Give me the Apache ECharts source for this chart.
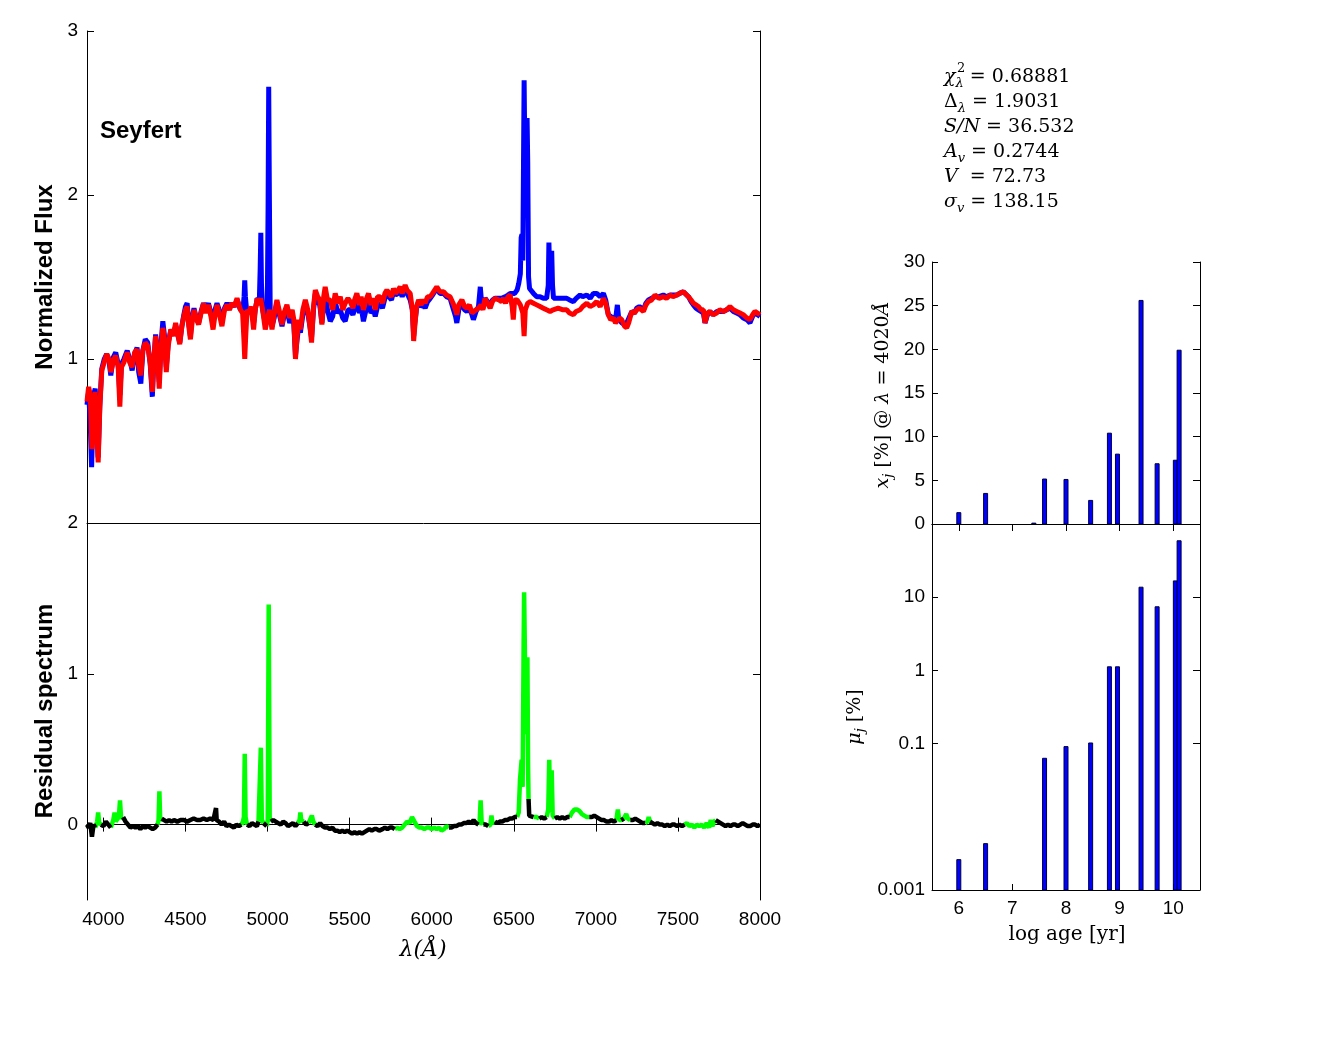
<!DOCTYPE html>
<html>
<head>
<meta charset="utf-8">
<script src="https://cdn.jsdelivr.net/npm/echarts@6.0.0/dist/echarts.min.js"></script>
<style>
  html, body { margin: 0; padding: 0; background: #fff; }
  #main { width: 1334px; height: 1046px; }
</style>
</head>
<body>
<div id="main"></div>
<script>
///******************************************** data ********************************************\\\

// observed spectrum (blue), [wavelength (A), normalized flux]
var obsFlux = [
  [3900,0.72],[3910,0.80],[3920,0.60],[3928,0.34],[3940,0.78],[3950,0.82],[3960,0.60],[3968,0.40],[3978,0.72],[3990,0.94],
  [4005,1.00],[4020,1.03],[4035,0.98],[4045,0.90],[4060,1.01],[4075,1.04],[4090,0.97],[4100,0.78],[4110,0.97],[4125,1.00],
  [4145,1.05],[4160,1.00],[4175,0.93],[4190,1.03],[4205,1.07],[4215,0.92],[4228,0.85],[4240,1.05],[4255,1.12],[4270,1.10],
  [4285,0.97],[4298,0.77],[4308,1.00],[4318,1.15],[4328,1.05],[4340,0.86],[4350,1.08],[4362,1.23],[4372,1.14],[4383,0.95],
  [4395,1.10],[4410,1.17],[4425,1.15],[4440,1.20],[4452,1.15],[4465,1.10],[4478,1.20],[4490,1.27],[4500,1.32],[4510,1.34],
  [4520,1.22],[4530,1.14],[4540,1.25],[4552,1.31],[4565,1.25],[4580,1.22],[4595,1.29],[4610,1.34],[4625,1.30],[4640,1.34],
  [4655,1.28],[4668,1.22],[4680,1.30],[4692,1.34],[4705,1.30],[4722,1.25],[4738,1.31],[4753,1.34],[4768,1.31],[4783,1.34],
  [4798,1.32],[4814,1.36],[4825,1.35],[4835,1.30],[4850,1.30],[4857,1.38],[4861,1.48],[4865,1.38],[4872,1.30],[4886,1.28],
  [4900,1.31],[4915,1.22],[4925,1.30],[4937,1.37],[4950,1.36],[4955,1.55],[4959,1.77],[4963,1.45],[4970,1.30],[4986,1.22],
  [4998,1.28],[5003,1.90],[5007,2.66],[5011,2.00],[5016,1.30],[5027,1.20],[5040,1.25],[5057,1.34],[5070,1.28],[5088,1.20],
  [5100,1.26],[5118,1.30],[5135,1.22],[5150,1.26],[5160,1.21],[5170,1.02],[5180,1.12],[5190,1.20],[5200,1.16],[5215,1.27],
  [5230,1.33],[5245,1.28],[5258,1.20],[5268,1.13],[5280,1.30],[5291,1.40],[5305,1.35],[5318,1.33],[5331,1.22],[5342,1.33],
  [5351,1.40],[5365,1.30],[5382,1.23],[5397,1.26],[5412,1.35],[5428,1.28],[5443,1.30],[5458,1.25],[5473,1.23],[5490,1.30],
  [5504,1.30],[5520,1.27],[5530,1.30],[5544,1.36],[5560,1.28],[5570,1.32],[5584,1.23],[5600,1.30],[5615,1.36],[5630,1.28],
  [5645,1.30],[5656,1.26],[5670,1.32],[5686,1.34],[5700,1.31],[5715,1.37],[5727,1.40],[5740,1.38],[5755,1.36],[5767,1.41],
  [5780,1.39],[5795,1.40],[5808,1.42],[5820,1.38],[5838,1.43],[5850,1.40],[5869,1.36],[5882,1.30],[5890,1.14],[5897,1.22],
  [5908,1.31],[5920,1.35],[5935,1.32],[5950,1.33],[5960,1.31],[5975,1.35],[5991,1.37],[6005,1.39],[6018,1.41],[6031,1.43],
  [6050,1.40],[6072,1.40],[6090,1.38],[6112,1.37],[6130,1.31],[6145,1.26],[6153,1.22],[6165,1.30],[6184,1.34],[6200,1.30],
  [6214,1.29],[6230,1.31],[6245,1.27],[6254,1.24],[6270,1.29],[6285,1.32],[6296,1.44],[6305,1.33],[6312,1.31],[6325,1.37],
  [6340,1.35],[6356,1.33],[6370,1.36],[6385,1.37],[6397,1.38],[6410,1.37],[6425,1.37],[6437,1.38],[6450,1.38],[6465,1.39],
  [6478,1.40],[6490,1.39],[6505,1.40],[6520,1.42],[6530,1.46],[6540,1.52],[6545,1.74],[6550,1.76],[6555,1.60],[6560,2.30],
  [6563,2.70],[6566,2.40],[6575,2.30],[6581,2.47],[6585,2.20],[6590,1.50],[6596,1.43],[6605,1.42],[6620,1.40],[6640,1.38],
  [6660,1.38],[6680,1.37],[6700,1.37],[6710,1.45],[6714,1.71],[6718,1.55],[6727,1.50],[6731,1.66],[6736,1.45],[6742,1.37],
  [6752,1.37],[6770,1.37],[6782,1.36],[6800,1.37],[6823,1.37],[6840,1.36],[6863,1.35],[6880,1.37],[6904,1.39],[6920,1.38],
  [6945,1.39],[6965,1.37],[6985,1.40],[7005,1.40],[7026,1.38],[7046,1.40],[7060,1.36],[7076,1.27],[7090,1.26],[7107,1.25],
  [7120,1.24],[7131,1.33],[7140,1.24],[7158,1.22],[7175,1.21],[7188,1.22],[7200,1.23],[7219,1.29],[7235,1.28],[7249,1.31],
  [7265,1.32],[7290,1.30],[7305,1.34],[7320,1.36],[7340,1.37],[7360,1.38],[7385,1.38],[7411,1.39],[7430,1.38],[7452,1.39],
  [7470,1.39],[7493,1.39],[7510,1.40],[7533,1.41],[7545,1.40],[7564,1.38],[7580,1.35],[7594,1.33],[7610,1.31],[7625,1.30],
  [7640,1.29],[7655,1.28],[7665,1.22],[7680,1.27],[7695,1.29],[7715,1.27],[7736,1.29],[7755,1.29],[7777,1.29],[7797,1.30],
  [7817,1.31],[7838,1.29],[7858,1.28],[7878,1.27],[7898,1.25],[7920,1.24],[7939,1.22],[7955,1.26],[7969,1.28],[7985,1.27],
  [8000,1.26]
];

// synthetic (model) spectrum (red)
var modelFlux = [
  [3900,0.74],[3910,0.83],[3920,0.78],[3930,0.45],[3940,0.62],[3950,0.80],[3960,0.55],[3968,0.37],[3978,0.70],[3990,0.93],
  [4005,0.98],[4020,1.03],[4035,1.00],[4045,0.92],[4060,0.99],[4075,1.02],[4090,0.95],[4100,0.71],[4110,0.95],[4125,0.98],
  [4145,1.04],[4160,0.98],[4175,0.95],[4190,1.04],[4205,1.06],[4215,0.96],[4228,0.90],[4240,1.05],[4255,1.10],[4270,1.08],
  [4285,0.98],[4298,0.80],[4308,1.00],[4318,1.14],[4328,1.05],[4340,0.82],[4350,1.05],[4362,1.19],[4372,1.12],[4383,0.92],
  [4395,1.08],[4410,1.18],[4425,1.14],[4440,1.22],[4452,1.16],[4465,1.09],[4478,1.20],[4490,1.26],[4500,1.30],[4510,1.32],
  [4520,1.20],[4530,1.12],[4540,1.22],[4552,1.30],[4565,1.25],[4580,1.21],[4595,1.28],[4610,1.34],[4625,1.28],[4640,1.33],
  [4655,1.26],[4668,1.18],[4680,1.27],[4692,1.33],[4705,1.28],[4722,1.20],[4738,1.30],[4753,1.33],[4768,1.30],[4783,1.34],
  [4798,1.32],[4814,1.37],[4825,1.36],[4835,1.30],[4848,1.28],[4856,1.12],[4861,1.00],[4866,1.12],[4875,1.30],[4886,1.28],
  [4900,1.32],[4915,1.18],[4925,1.30],[4937,1.37],[4950,1.33],[4957,1.37],[4970,1.30],[4986,1.18],[5000,1.25],[5012,1.30],
  [5027,1.18],[5040,1.27],[5057,1.36],[5070,1.30],[5088,1.21],[5100,1.28],[5118,1.33],[5135,1.25],[5150,1.30],[5160,1.24],
  [5170,1.00],[5180,1.14],[5190,1.24],[5200,1.18],[5215,1.30],[5230,1.36],[5245,1.30],[5258,1.20],[5268,1.10],[5280,1.32],
  [5291,1.42],[5305,1.38],[5318,1.36],[5331,1.21],[5342,1.38],[5351,1.44],[5365,1.36],[5382,1.36],[5397,1.30],[5412,1.40],
  [5428,1.34],[5443,1.38],[5458,1.30],[5473,1.34],[5490,1.37],[5504,1.35],[5520,1.31],[5530,1.36],[5544,1.40],[5560,1.33],
  [5570,1.38],[5584,1.30],[5600,1.36],[5615,1.40],[5630,1.33],[5645,1.37],[5656,1.30],[5670,1.38],[5686,1.38],[5700,1.34],
  [5715,1.40],[5727,1.42],[5740,1.40],[5755,1.38],[5767,1.43],[5780,1.40],[5795,1.42],[5808,1.44],[5820,1.40],[5838,1.45],
  [5850,1.42],[5869,1.40],[5882,1.30],[5890,1.11],[5897,1.20],[5908,1.32],[5920,1.36],[5935,1.33],[5950,1.36],[5960,1.34],
  [5975,1.38],[5991,1.38],[6005,1.40],[6018,1.42],[6031,1.44],[6050,1.41],[6072,1.41],[6090,1.39],[6112,1.38],[6130,1.34],
  [6145,1.30],[6153,1.27],[6165,1.33],[6184,1.36],[6200,1.32],[6214,1.31],[6230,1.33],[6245,1.28],[6254,1.27],[6270,1.30],
  [6285,1.31],[6300,1.33],[6312,1.30],[6325,1.37],[6340,1.34],[6356,1.31],[6370,1.35],[6385,1.37],[6397,1.38],[6410,1.36],
  [6425,1.35],[6437,1.37],[6450,1.34],[6465,1.38],[6478,1.39],[6490,1.32],[6497,1.24],[6505,1.36],[6520,1.36],[6540,1.33],
  [6555,1.28],[6563,1.14],[6570,1.30],[6585,1.34],[6600,1.35],[6620,1.34],[6640,1.33],[6660,1.32],[6680,1.31],[6700,1.30],
  [6721,1.29],[6740,1.30],[6752,1.29],[6770,1.31],[6782,1.30],[6800,1.30],[6823,1.30],[6840,1.28],[6863,1.27],[6880,1.29],
  [6904,1.30],[6920,1.32],[6945,1.34],[6965,1.32],[6985,1.33],[7005,1.35],[7026,1.32],[7046,1.37],[7060,1.34],[7076,1.27],
  [7090,1.24],[7107,1.25],[7120,1.22],[7131,1.22],[7145,1.25],[7158,1.24],[7175,1.20],[7188,1.19],[7200,1.22],[7219,1.29],
  [7235,1.28],[7249,1.30],[7265,1.31],[7290,1.29],[7305,1.33],[7320,1.35],[7340,1.36],[7360,1.39],[7385,1.37],[7411,1.38],
  [7430,1.37],[7452,1.39],[7470,1.38],[7493,1.39],[7510,1.40],[7533,1.41],[7545,1.40],[7564,1.38],[7580,1.36],[7594,1.34],
  [7610,1.33],[7625,1.32],[7640,1.30],[7655,1.30],[7665,1.22],[7680,1.28],[7695,1.29],[7715,1.27],[7736,1.28],[7755,1.30],
  [7777,1.29],[7797,1.30],[7817,1.32],[7838,1.30],[7858,1.29],[7878,1.28],[7898,1.27],[7920,1.25],[7939,1.24],[7955,1.27],
  [7969,1.29],[7985,1.28],[8000,1.27]
];

// residual spectrum
var residual = [
  [3900,0.00],[3910,-0.02],[3920,0.01],[3930,-0.08],[3940,0.00],[3950,-0.02],[3962,0.02],[3968,0.08],[3974,0.01],[3985,0.00],
  [4000,-0.01],[4015,0.02],[4030,0.00],[4045,-0.02],[4060,0.03],[4068,0.08],[4075,0.02],[4085,0.03],[4094,0.05],[4101,0.16],
  [4108,0.04],[4120,0.05],[4135,0.02],[4150,0.00],[4165,-0.02],[4180,-0.01],[4195,-0.02],[4210,-0.01],[4225,-0.03],[4240,-0.01],
  [4255,-0.02],[4270,-0.01],[4285,-0.02],[4300,-0.03],[4315,-0.02],[4330,0.00],[4336,0.03],[4341,0.22],[4346,0.03],[4355,0.04],
  [4370,0.03],[4385,0.02],[4400,0.03],[4415,0.02],[4430,0.03],[4450,0.02],[4470,0.03],[4490,0.03],[4510,0.02],[4530,0.03],
  [4550,0.04],[4570,0.03],[4590,0.03],[4610,0.04],[4630,0.03],[4650,0.04],[4670,0.03],[4682,0.04],[4686,0.11],[4690,0.03],
  [4705,0.02],[4720,0.00],[4735,0.02],[4750,-0.01],[4765,0.00],[4780,-0.01],[4795,-0.02],[4810,0.00],[4825,-0.01],[4840,0.00],
  [4850,0.02],[4856,0.05],[4861,0.47],[4866,0.05],[4875,0.00],[4890,-0.01],[4905,0.01],[4920,0.00],[4935,-0.01],[4945,0.02],
  [4952,0.03],[4959,0.51],[4965,0.03],[4975,0.01],[4985,0.00],[4995,-0.01],[5001,0.03],[5007,1.46],[5013,0.05],[5020,0.02],
  [5035,0.03],[5050,0.02],[5065,0.01],[5080,0.00],[5095,0.02],[5110,0.01],[5125,-0.01],[5140,0.00],[5155,0.01],[5170,-0.01],
  [5185,0.01],[5195,0.03],[5200,0.08],[5205,0.03],[5220,0.02],[5235,0.00],[5250,0.01],[5262,0.02],[5270,0.06],[5278,0.02],
  [5290,0.00],[5305,-0.01],[5320,0.01],[5335,-0.01],[5350,-0.02],[5365,-0.02],[5380,-0.03],[5395,-0.02],[5410,-0.04],[5425,-0.04],
  [5440,-0.05],[5455,-0.04],[5470,-0.05],[5485,-0.04],[5500,-0.05],[5515,-0.06],[5530,-0.05],[5545,-0.06],[5560,-0.05],[5575,-0.06],
  [5590,-0.05],[5605,-0.04],[5620,-0.03],[5635,-0.04],[5650,-0.03],[5665,-0.03],[5680,-0.04],[5700,-0.03],[5715,-0.02],[5730,-0.03],
  [5745,-0.02],[5760,-0.02],[5775,-0.03],[5790,-0.02],[5805,-0.03],[5820,-0.02],[5835,0.00],[5850,0.02],[5865,0.01],[5880,0.05],
  [5895,0.02],[5910,-0.01],[5925,-0.02],[5940,-0.02],[5955,-0.03],[5970,-0.02],[5985,-0.02],[6000,-0.03],[6015,-0.02],[6030,-0.03],
  [6045,-0.02],[6060,-0.04],[6075,-0.03],[6090,-0.01],[6105,-0.02],[6120,-0.02],[6135,-0.01],[6150,-0.01],[6165,0.00],[6180,0.00],
  [6195,0.01],[6210,0.01],[6225,0.02],[6240,0.01],[6255,0.03],[6270,0.01],[6285,0.00],[6292,0.02],[6298,0.16],[6304,0.02],
  [6315,0.00],[6330,0.00],[6345,-0.01],[6358,0.00],[6364,0.06],[6370,0.01],[6385,0.02],[6400,0.01],[6415,0.02],[6430,0.02],
  [6445,0.03],[6460,0.03],[6475,0.04],[6490,0.04],[6505,0.05],[6520,0.05],[6530,0.08],[6538,0.30],[6548,0.43],[6554,0.25],
  [6560,1.20],[6563,1.54],[6567,1.20],[6573,0.60],[6578,0.90],[6583,1.11],[6587,0.40],[6590,0.17],[6594,0.06],[6605,0.05],
  [6620,0.05],[6630,0.06],[6640,0.05],[6655,0.04],[6670,0.05],[6685,0.04],[6700,0.05],[6710,0.10],[6716,0.43],[6722,0.08],
  [6726,0.10],[6731,0.36],[6737,0.06],[6750,0.04],[6765,0.05],[6780,0.04],[6795,0.05],[6810,0.04],[6825,0.05],[6840,0.05],
  [6855,0.08],[6870,0.10],[6885,0.10],[6900,0.09],[6915,0.07],[6930,0.06],[6945,0.05],[6960,0.05],[6975,0.05],[6990,0.06],
  [7005,0.05],[7020,0.04],[7035,0.03],[7050,0.03],[7065,0.02],[7080,0.02],[7095,0.03],[7110,0.02],[7125,0.03],[7134,0.10],
  [7142,0.03],[7155,0.03],[7170,0.04],[7185,0.07],[7195,0.04],[7210,0.03],[7225,0.03],[7240,0.04],[7255,0.03],[7270,0.02],
  [7285,0.01],[7300,0.01],[7315,0.02],[7322,0.05],[7330,0.02],[7345,0.01],[7360,0.00],[7375,0.01],[7390,0.00],[7405,0.00],
  [7420,-0.01],[7435,0.00],[7450,-0.01],[7465,0.00],[7480,0.00],[7495,-0.01],[7510,0.00],[7525,-0.01],[7540,0.00],[7555,0.01],
  [7570,-0.01],[7585,0.00],[7600,-0.02],[7615,0.00],[7630,-0.01],[7645,0.00],[7660,-0.02],[7675,0.01],[7690,-0.02],[7700,0.03],
  [7710,-0.01],[7720,0.02],[7730,0.03],[7745,0.02],[7760,0.01],[7775,0.00],[7790,-0.01],[7805,0.00],[7820,-0.01],[7835,0.00],
  [7850,0.00],[7865,-0.01],[7880,0.00],[7895,0.01],[7910,0.00],[7925,-0.01],[7940,-0.01],[7955,0.00],[7970,0.00],[7985,-0.01],
  [8000,0.00]
];

// masked wavelength windows (drawn green in the residual)
var maskRanges = [
  [3955,3976],[4055,4076],[4092,4110],[4332,4350],[4850,4872],[4950,4968],[4998,5018],[5190,5207],[5262,5279],
  [5790,6100],[6290,6308],[6358,6372],[6530,6588],[6622,6642],[6705,6742],[6850,6945],[7128,7145],[7180,7196],
  [7315,7328],[7550,7726]
];

// population synthesis: log age, light fraction x_j (%), mass fraction mu_j (%)
var logAge = [6.0, 6.5, 7.4, 7.6, 8.0, 8.46, 8.81, 8.96, 9.4, 9.7, 10.04, 10.11];
var xj     = [1.3, 3.5, 0.1, 5.15, 5.1, 2.7, 10.4, 8.0, 25.6, 6.9, 7.3, 19.9];
var muj    = [0.0026, 0.0043, null, 0.063, 0.091, 0.102, 1.12, 1.12, 13.7, 7.4, 16.7, 59];

var specTicks = [4000, 4500, 5000, 5500, 6000, 6500, 7000, 7500, 8000];
var ageTicks = [6, 7, 8, 9, 10];
var muTicks = [0.001, 0.1, 1, 10];

///******************************************** helpers ********************************************\\\

var SANS = 'Liberation Sans, Arial, Helvetica, sans-serif';
var SERIF = 'DejaVu Serif, Liberation Serif, serif';
var AX = { lineStyle: { color: '#000', width: 1 } };

function barRender(base) {
	return function(params, api) {
		var v = api.value(1);
		if (v == null || isNaN(v) || v <= base) return null;
		var top = api.coord([api.value(0), v]);
		var bot = api.coord([api.value(0), base]);
		return {
			type : 'rect',
			shape : { x : top[0] - 2, y : top[1], width : 4, height : bot[1] - top[1] },
			style : { fill : '#0000ff', stroke : '#000040', lineWidth : 1 }
		};
	};
}

function pairs(a, b) {
	var out = [];
	for (var i = 0; i < a.length; i++) out.push([a[i], b[i]]);
	return out;
}

function inMask(w) {
	for (var i = 0; i < maskRanges.length; i++) {
		if (w >= maskRanges[i][0] && w <= maskRanges[i][1]) return true;
	}
	return false;
}

// split the residual into masked (green) and fitted (black) pieces, with breaks
function splitResidual(masked) {
	var out = [];
	for (var i = 0; i < residual.length; i++) {
		var m = inMask(residual[i][0]);
		var keep = masked
			? (m || (i > 0 && inMask(residual[i - 1][0])) || (i < residual.length - 1 && inMask(residual[i + 1][0])))
			: !m;
		out.push(keep ? residual[i] : [residual[i][0], '-']);
	}
	return out;
}

// mirrored (label-less) axis used to draw inside ticks on the opposite side
function mirrorX(grid, min, max, ticks) {
	return { gridIndex : grid, type : 'value', position : 'top', min : min, max : max,
		axisLine : { show : true, lineStyle : AX.lineStyle },
		axisTick : { show : true, inside : true, length : 7, customValues : ticks, lineStyle : AX.lineStyle },
		axisLabel : { show : false }, splitLine : { show : false } };
}
function mirrorY(grid, min, max, type, ticks, interval) {
	var ax = { gridIndex : grid, type : type, position : 'right', min : min, max : max,
		axisLine : { show : true, lineStyle : AX.lineStyle },
		axisTick : { show : true, inside : true, length : 7, lineStyle : AX.lineStyle },
		axisLabel : { show : false }, splitLine : { show : false } };
	if (ticks) ax.axisTick.customValues = ticks;
	if (interval) ax.interval = interval;
	return ax;
}

var labelStyle = { color : '#000', fontFamily : SANS, fontSize : 19 };
function plain(v) { return String(v); }

///******************************************** option ********************************************\\\

var option = {
	animation : false,
	backgroundColor : '#fff',
	grid : [
		{ left : 87, top : 31, width : 673, height : 492 },
		{ left : 87, top : 523, width : 673, height : 377 },
		{ left : 932, top : 262, width : 268, height : 262 },
		{ left : 932, top : 524, width : 268, height : 366 }
	],
	xAxis : [
		{ gridIndex : 0, type : 'value', min : 3900, max : 8000,
			axisLine : AX, axisTick : { show : false }, axisLabel : { show : false }, splitLine : { show : false } },
		{ gridIndex : 1, type : 'value', min : 3900, max : 8000,
			axisLine : AX,
			axisTick : { inside : true, length : 7, customValues : specTicks, lineStyle : AX.lineStyle },
			axisLabel : Object.assign({ customValues : specTicks, margin : 10, formatter : plain }, labelStyle),
			splitLine : { show : false } },
		mirrorX(1, 3900, 8000, specTicks),
		{ gridIndex : 2, type : 'value', min : 5.5, max : 10.5,
			axisLine : AX, axisTick : { show : false }, axisLabel : { show : false }, splitLine : { show : false } },
		{ gridIndex : 3, type : 'value', min : 5.5, max : 10.5,
			axisLine : AX,
			axisTick : { inside : true, length : 6, customValues : ageTicks, lineStyle : AX.lineStyle },
			axisLabel : Object.assign({ customValues : ageTicks, margin : 9, formatter : plain }, labelStyle),
			splitLine : { show : false } },
		mirrorX(3, 5.5, 10.5, ageTicks)
	],
	yAxis : [
		{ gridIndex : 0, type : 'value', min : 0, max : 3, interval : 1,
			axisLine : AX, axisTick : { inside : true, length : 7, lineStyle : AX.lineStyle },
			axisLabel : Object.assign({ margin : 9, formatter : function(v) { return v === 0 ? '' : String(v); } }, labelStyle),
			splitLine : { show : false } },
		mirrorY(0, 0, 3, 'value', null, 1),
		{ gridIndex : 1, type : 'value', min : -0.5, max : 2,
			axisLine : AX, axisTick : { inside : true, length : 7, customValues : [0, 1, 2], lineStyle : AX.lineStyle },
			axisLabel : Object.assign({ margin : 9, customValues : [0, 1, 2], formatter : plain }, labelStyle),
			splitLine : { show : false } },
		mirrorY(1, -0.5, 2, 'value', [0, 1, 2]),
		{ gridIndex : 2, type : 'value', min : 0, max : 30, interval : 5,
			axisLine : AX, axisTick : { inside : true, length : 6, lineStyle : AX.lineStyle },
			axisLabel : Object.assign({ margin : 7, formatter : plain }, labelStyle),
			splitLine : { show : false } },
		mirrorY(2, 0, 30, 'value', null, 5),
		{ gridIndex : 3, type : 'log', logBase : 10, min : 0.001, max : 100,
			axisLine : AX, axisTick : { inside : true, length : 6, customValues : muTicks, lineStyle : AX.lineStyle },
			axisLabel : Object.assign({ margin : 7, customValues : muTicks, formatter : plain }, labelStyle),
			splitLine : { show : false } },
		mirrorY(3, 0.001, 100, 'log', muTicks)
	],
	series : [
		{ name : 'observed', type : 'line', xAxisIndex : 0, yAxisIndex : 0, data : obsFlux,
			showSymbol : false, lineStyle : { color : '#0000ff', width : 5 }, itemStyle : { color : '#0000ff' } },
		{ name : 'model', type : 'line', xAxisIndex : 0, yAxisIndex : 0, data : modelFlux,
			showSymbol : false, lineStyle : { color : '#ff0000', width : 5 }, itemStyle : { color : '#ff0000' } },
		{ name : 'masked', type : 'line', xAxisIndex : 1, yAxisIndex : 2, data : splitResidual(true),
			showSymbol : false, connectNulls : false, lineStyle : { color : '#00ff00', width : 4.5 }, itemStyle : { color : '#00ff00' } },
		{ name : 'residual', type : 'line', xAxisIndex : 1, yAxisIndex : 2, data : splitResidual(false),
			showSymbol : false, connectNulls : false, lineStyle : { color : '#000000', width : 4.5 }, itemStyle : { color : '#000' } },
		{ name : 'xj', type : 'custom', xAxisIndex : 3, yAxisIndex : 4, data : pairs(logAge, xj),
			renderItem : barRender(0), clip : true },
		{ name : 'muj', type : 'custom', xAxisIndex : 4, yAxisIndex : 6, data : pairs(logAge, muj),
			renderItem : barRender(0.001), clip : true }
	],
	graphic : [
		{ type : 'text', x : 100, y : 131, style : { text : 'Seyfert', font : 'bold 24px ' + SANS, fill : '#000', verticalAlign : 'middle' } },
		{ type : 'text', x : 45, y : 277, rotation : Math.PI / 2,
			style : { text : 'Normalized Flux', font : 'bold 24px ' + SANS, fill : '#000', align : 'center', verticalAlign : 'middle' } },
		{ type : 'text', x : 45, y : 711, rotation : Math.PI / 2,
			style : { text : 'Residual spectrum', font : 'bold 24px ' + SANS, fill : '#000', align : 'center', verticalAlign : 'middle' } },
		{ type : 'text', x : 423, y : 950,
			style : { text : 'λ(Å)', font : 'italic 22px ' + SERIF, fill : '#000', align : 'center', verticalAlign : 'middle' } },
		{ type : 'text', x : 1067, y : 935,
			style : { text : 'log age [yr]', font : '20px ' + SERIF, fill : '#000', align : 'center', verticalAlign : 'middle' } },
		{ type : 'text', x : 883, y : 395, rotation : Math.PI / 2,
			style : { text : '{i|x}{s|j}{n| [%] @ }{i|λ}{n| = 4020}{i|Å}', align : 'center', verticalAlign : 'middle',
				rich : {
					i : { font : 'italic 19px ' + SERIF, fill : '#000', lineHeight : 24 },
					n : { font : '19px ' + SERIF, fill : '#000', lineHeight : 24 },
					s : { font : 'italic 13px ' + SERIF, fill : '#000', lineHeight : 13, verticalAlign : 'bottom' }
				} } },
		{ type : 'text', x : 855, y : 717, rotation : Math.PI / 2,
			style : { text : '{i|μ}{s|j}{n| [%]}', align : 'center', verticalAlign : 'middle',
				rich : {
					i : { font : 'italic 19px ' + SERIF, fill : '#000', lineHeight : 24 },
					n : { font : '19px ' + SERIF, fill : '#000', lineHeight : 24 },
					s : { font : 'italic 13px ' + SERIF, fill : '#000', lineHeight : 13, verticalAlign : 'bottom' }
				} } },
		{ type : 'text', x : 944, y : 65,
			style : { text : '{i|χ}{s|λ}{n| = 0.68881}\n{n|Δ}{s|λ}{n| = 1.9031}\n{i|S/N}{n| = 36.532}\n{i|A}{s|v}{n| = 0.2744}\n{i|V}{n|  = 72.73}\n{i|σ}{s|v}{n| = 138.15}',
				rich : {
					i : { font : 'italic 19px ' + SERIF, fill : '#000', lineHeight : 25 },
					n : { font : '19px ' + SERIF, fill : '#000', lineHeight : 25 },
					s : { font : 'italic 13px ' + SERIF, fill : '#000', lineHeight : 14, verticalAlign : 'bottom' }
				} } },
		{ type : 'text', x : 957, y : 62, style : { text : '2', font : '13px ' + SERIF, fill : '#000' } }
	]
};

var chart = echarts.init(document.getElementById('main'), null, { renderer : 'canvas' });
chart.setOption(option);
</script>
</body>
</html>
